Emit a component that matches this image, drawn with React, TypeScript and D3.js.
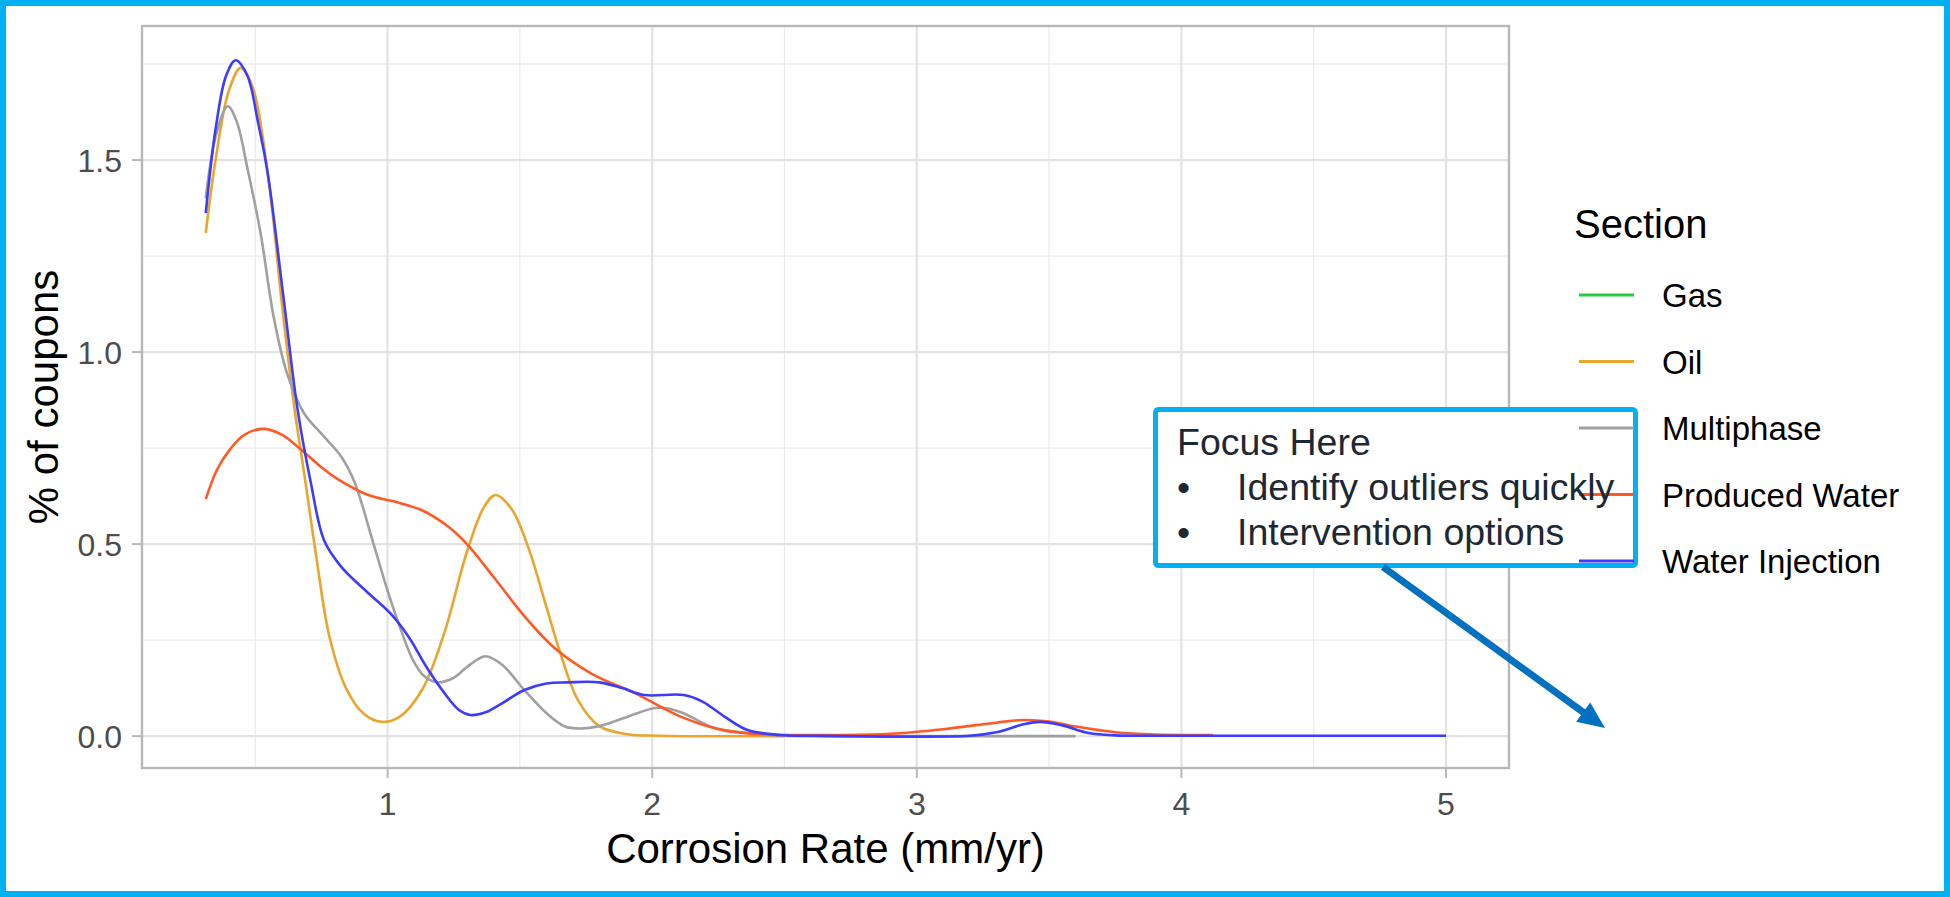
import { useEffect, useRef } from 'react'
import * as d3 from 'd3'

// 범례 순서 = 그리는 순서 (ggplot factor order)
const sections = ['Gas', 'Oil', 'Multiphase', 'Produced Water', 'Water Injection']
const sectionColors = ['#22cc44', '#e9a52c', '#a0a0a0', '#ff5a26', '#3c3cff']

// 밀도 곡선 (Corrosion Rate, % of coupons) - 그림에서 읽은 값
const gas: [number, number][] = []

const oil: [number, number][] = [
  [0.313, 1.31], [0.35, 1.5], [0.4, 1.68], [0.445, 1.74], [0.49, 1.69], [0.55, 1.45],
  [0.6, 1.13], [0.645, 0.87], [0.69, 0.66], [0.73, 0.47], [0.78, 0.26], [0.843, 0.125],
  [0.91, 0.058], [0.977, 0.037], [1.045, 0.05], [1.13, 0.12], [1.215, 0.27], [1.3, 0.48],
  [1.365, 0.597], [1.408, 0.628], [1.47, 0.59], [1.535, 0.485], [1.6, 0.337], [1.65, 0.223],
  [1.72, 0.093], [1.8, 0.026], [1.905, 0.005], [2.02, 0.001], [2.5, 0],
]

const multiphase: [number, number][] = [
  [0.313, 1.4], [0.35, 1.56], [0.396, 1.64], [0.43, 1.6], [0.47, 1.48], [0.52, 1.31],
  [0.57, 1.09], [0.62, 0.945], [0.685, 0.84], [0.76, 0.78], [0.826, 0.727], [0.876, 0.66],
  [0.943, 0.51], [0.995, 0.39], [1.046, 0.285], [1.096, 0.198], [1.14, 0.155], [1.19, 0.14],
  [1.25, 0.152], [1.3, 0.18], [1.37, 0.208], [1.434, 0.185], [1.517, 0.12], [1.6, 0.06],
  [1.67, 0.025], [1.73, 0.02], [1.8, 0.026], [1.905, 0.05], [2.02, 0.074], [2.106, 0.063],
  [2.225, 0.024], [2.36, 0.008], [2.5, 0.001], [3.0, 0], [3.6, 0],
]

const producedWater: [number, number][] = [
  [0.313, 0.617], [0.355, 0.693], [0.406, 0.748], [0.46, 0.785], [0.53, 0.8], [0.6, 0.785],
  [0.675, 0.745], [0.75, 0.7], [0.81, 0.67], [0.93, 0.627], [1.03, 0.61], [1.13, 0.588],
  [1.23, 0.545], [1.3, 0.5], [1.4, 0.415], [1.52, 0.31], [1.63, 0.23], [1.77, 0.163],
  [1.94, 0.11], [2.11, 0.05], [2.27, 0.015], [2.45, 0.004], [2.7, 0.003], [2.9, 0.006],
  [3.1, 0.018], [3.3, 0.035], [3.4, 0.042], [3.5, 0.038], [3.6, 0.025], [3.75, 0.01],
  [3.9, 0.004], [4.12, 0.003],
]

const waterInjection: [number, number][] = [
  [0.313, 1.362], [0.35, 1.58], [0.39, 1.72], [0.426, 1.76], [0.47, 1.72], [0.51, 1.6],
  [0.547, 1.466], [0.608, 1.135], [0.66, 0.85], [0.71, 0.66], [0.76, 0.51], [0.826, 0.44],
  [0.928, 0.372], [1.01, 0.32], [1.08, 0.258], [1.147, 0.18], [1.215, 0.112], [1.27, 0.068],
  [1.313, 0.055], [1.37, 0.062], [1.434, 0.086], [1.517, 0.12], [1.6, 0.137], [1.68, 0.14],
  [1.8, 0.14], [1.887, 0.125], [1.97, 0.107], [2.12, 0.107], [2.19, 0.09], [2.275, 0.05],
  [2.36, 0.016], [2.48, 0.003], [2.6, 0.001], [3.2, 0.001], [3.3, 0.01], [3.4, 0.03],
  [3.465, 0.037], [3.55, 0.028], [3.65, 0.008], [3.75, 0.002], [4.0, 0.001], [5.0, 0.001],
]

const seriesData = [gas, oil, multiphase, producedWater, waterInjection]

// 축 눈금
const xTicks = [1, 2, 3, 4, 5]
const xMinor = [0.5, 1.5, 2.5, 3.5, 4.5]
const yTicks = [0, 0.5, 1.0, 1.5]
const yTickLabels = ['0.0', '0.5', '1.0', '1.5']
const yMinor = [0.25, 0.75, 1.25, 1.75]

const noteTitle = 'Focus Here'
const noteBullets = ['Identify outliers quickly', 'Intervention options']

const FONT = '"Liberation Sans", Arial, Helvetica, sans-serif'

export default function App() {
  const svgRef = useRef<SVGSVGElement>(null)

  useEffect(() => {
    if (!svgRef.current) return
    const width = 1950
    const height = 897
    const panel = { left: 142, right: 1509, top: 26, bottom: 768 }

    const svg = d3.select(svgRef.current)
    svg.selectAll('*').remove()
    svg.attr('width', width).attr('height', height)

    // 바깥 파란 테두리
    svg.append('rect')
      .attr('x', 3).attr('y', 3)
      .attr('width', width - 6).attr('height', height - 6)
      .attr('fill', '#ffffff')
      .attr('stroke', '#00b0f0')
      .attr('stroke-width', 6)

    const x = d3.scaleLinear().domain([0.072, 5.238]).range([panel.left, panel.right])
    const y = d3.scaleLinear().domain([-0.083, 1.849]).range([panel.bottom, panel.top])

    const g = svg.append('g')

    // 보조 격자
    g.selectAll('.x-minor').data(xMinor).enter().append('line')
      .attr('x1', d => x(d)).attr('x2', d => x(d))
      .attr('y1', panel.top).attr('y2', panel.bottom)
      .attr('stroke', '#ebebeb').attr('stroke-width', 1.3)
    g.selectAll('.y-minor').data(yMinor).enter().append('line')
      .attr('y1', d => y(d)).attr('y2', d => y(d))
      .attr('x1', panel.left).attr('x2', panel.right)
      .attr('stroke', '#ebebeb').attr('stroke-width', 1.3)

    // 주 격자
    g.selectAll('.x-major').data(xTicks).enter().append('line')
      .attr('x1', d => x(d)).attr('x2', d => x(d))
      .attr('y1', panel.top).attr('y2', panel.bottom)
      .attr('stroke', '#e3e3e3').attr('stroke-width', 2.2)
    g.selectAll('.y-major').data(yTicks).enter().append('line')
      .attr('y1', d => y(d)).attr('y2', d => y(d))
      .attr('x1', panel.left).attr('x2', panel.right)
      .attr('stroke', '#e3e3e3').attr('stroke-width', 2.2)

    // 곡선
    const line = d3.line<[number, number]>()
      .x(d => x(d[0]))
      .y(d => y(Math.max(0, d[1])))
      .curve(d3.curveCatmullRom.alpha(0.5))

    seriesData.forEach((data, i) => {
      if (data.length === 0) return
      g.append('path')
        .datum(data)
        .attr('d', line)
        .attr('fill', 'none')
        .attr('stroke', sectionColors[i])
        .attr('stroke-width', 2.6)
        .attr('stroke-linejoin', 'round')
    })

    // 패널 테두리
    g.append('rect')
      .attr('x', panel.left).attr('y', panel.top)
      .attr('width', panel.right - panel.left).attr('height', panel.bottom - panel.top)
      .attr('fill', 'none').attr('stroke', '#b8b8b8').attr('stroke-width', 2.4)

    // X축 눈금
    g.selectAll('.x-tick').data(xTicks).enter().append('line')
      .attr('x1', d => x(d)).attr('x2', d => x(d))
      .attr('y1', panel.bottom).attr('y2', panel.bottom + 10)
      .attr('stroke', '#b8b8b8').attr('stroke-width', 2)
    g.selectAll('.x-label').data(xTicks).enter().append('text')
      .attr('x', d => x(d)).attr('y', 815)
      .attr('text-anchor', 'middle')
      .style('font-family', FONT).style('font-size', '32px').style('fill', '#4d4d4d')
      .text(d => String(d))

    // Y축 눈금
    g.selectAll('.y-tick').data(yTicks).enter().append('line')
      .attr('x1', panel.left - 10).attr('x2', panel.left)
      .attr('y1', d => y(d)).attr('y2', d => y(d))
      .attr('stroke', '#b8b8b8').attr('stroke-width', 2)
    g.selectAll('.y-label').data(yTicks).enter().append('text')
      .attr('x', 122).attr('y', d => y(d))
      .attr('dy', '0.36em')
      .attr('text-anchor', 'end')
      .style('font-family', FONT).style('font-size', '32px').style('fill', '#4d4d4d')
      .text((_, i) => yTickLabels[i])

    // 축 제목
    svg.append('text')
      .attr('x', (panel.left + panel.right) / 2).attr('y', 863)
      .attr('text-anchor', 'middle')
      .style('font-family', FONT).style('font-size', '42px').style('fill', '#000')
      .text('Corrosion Rate (mm/yr)')
    svg.append('text')
      .attr('transform', `translate(58,${(panel.top + panel.bottom) / 2}) rotate(-90)`)
      .attr('text-anchor', 'middle')
      .style('font-family', FONT).style('font-size', '42px').style('fill', '#000')
      .text('% of coupons')

    // 주석 상자
    svg.append('rect')
      .attr('x', 1155.5).attr('y', 409.5)
      .attr('width', 480).attr('height', 156)
      .attr('rx', 3)
      .attr('fill', '#ffffff')
      .attr('stroke', '#00b0f0')
      .attr('stroke-width', 5)

    // 범례
    const legend = svg.append('g')
    legend.append('text')
      .attr('x', 1574).attr('y', 238)
      .style('font-family', FONT).style('font-size', '40px').style('fill', '#000')
      .text('Section')
    sections.forEach((name, i) => {
      const ky = 295 + i * 66.5
      legend.append('line')
        .attr('x1', 1579).attr('x2', 1634)
        .attr('y1', ky).attr('y2', ky)
        .attr('stroke', sectionColors[i]).attr('stroke-width', 3)
      legend.append('text')
        .attr('x', 1662).attr('y', ky + 12)
        .style('font-family', FONT).style('font-size', '33px').style('fill', '#000')
        .text(name)
    })

    // 주석 텍스트
    const note = svg.append('g')
      .style('font-family', FONT).style('font-size', '37.5px').style('fill', '#1e2832')
    note.append('text').attr('x', 1177).attr('y', 455).text(noteTitle)
    noteBullets.forEach((b, i) => {
      const by = 500 + i * 45
      note.append('text').attr('x', 1177).attr('y', by).text('•')
      note.append('text').attr('x', 1237).attr('y', by).text(b)
    })

    // 화살표
    const start: [number, number] = [1383, 567]
    const tip: [number, number] = [1605, 728]
    const dx = tip[0] - start[0]
    const dy = tip[1] - start[1]
    const len = Math.hypot(dx, dy)
    const ux = dx / len
    const uy = dy / len
    const headLen = 27
    const headHalf = 12
    const base: [number, number] = [tip[0] - ux * headLen, tip[1] - uy * headLen]
    svg.append('line')
      .attr('x1', start[0]).attr('y1', start[1])
      .attr('x2', base[0] + ux * 2).attr('y2', base[1] + uy * 2)
      .attr('stroke', '#0070c0').attr('stroke-width', 7)
    svg.append('polygon')
      .attr('points', [
        tip,
        [base[0] - uy * headHalf, base[1] + ux * headHalf],
        [base[0] + uy * headHalf, base[1] - ux * headHalf],
      ].map(p => p.join(',')).join(' '))
      .attr('fill', '#0070c0')
  }, [])

  return (
    <svg
      ref={svgRef}
      style={{ position: 'absolute', left: 0, top: 0, display: 'block' }}
    ></svg>
  )
}
